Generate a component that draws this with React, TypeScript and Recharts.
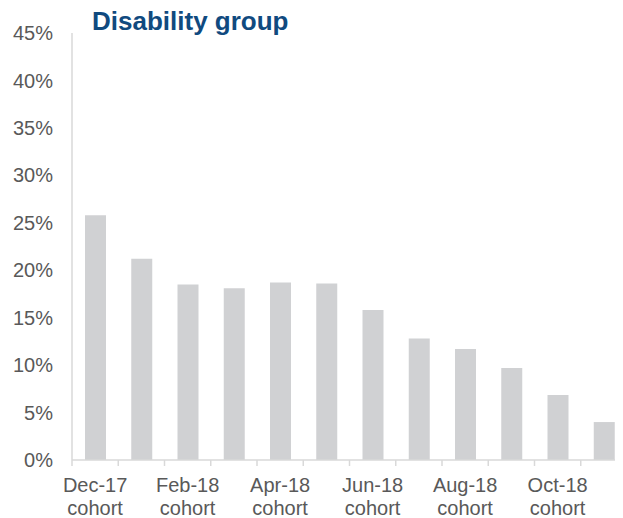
import React from 'react';
import { BarChart, Bar, XAxis, YAxis } from 'recharts';

const cohorts = ['Dec-17', 'Jan-18', 'Feb-18', 'Mar-18', 'Apr-18', 'May-18', 'Jun-18', 'Jul-18', 'Aug-18', 'Sep-18', 'Oct-18', 'Nov-18'];
const disabilityShare = [25.8, 21.2, 18.5, 18.1, 18.7, 18.6, 15.8, 12.8, 11.7, 9.7, 6.85, 4.0];
const yTicks = [0, 5, 10, 15, 20, 25, 30, 35, 40, 45];

const data = cohorts.map((c, i) => ({ cohort: c, value: disabilityShare[i] }));

const FONT = '"Liberation Sans", Arial, sans-serif';
const TEXT = '#595959';
const AXIS = '#d9d9d9';
const HALF_BAND = 23.1;

const CohortTick = (props: any) => {
	const { x, y, payload, index } = props;
	const half = payload && payload.offset ? payload.offset : HALF_BAND;
	return (
		<g>
			<line x1={x - half} x2={x - half} y1={y} y2={y + 6} stroke={AXIS} strokeWidth={1.5} />
			{index % 2 === 0 && (
				<text textAnchor="middle" fill={TEXT} fontSize={20} fontFamily={FONT}>
					<tspan x={x} y={y + 32}>{payload.value}</tspan>
					<tspan x={x} y={y + 55}>cohort</tspan>
				</text>
			)}
		</g>
	);
};

const App = () => {
	return (
		<div style={{ position: 'relative', width: 615, height: 510 }}>
			<style>{'html,body{overflow:hidden}'}</style>
			{/* chart is a little wider than the page, the right edge is cropped like the source */}
			<div style={{ width: 615, height: 510, overflow: 'hidden' }}>
				<BarChart width={630} height={510} data={data} margin={{ top: 25, right: 11, bottom: 0, left: 0 }} barCategoryGap={0}>
					<XAxis
						dataKey="cohort"
						interval={0}
						height={58}
						tickLine={false}
						tickSize={0}
						tickMargin={0}
						axisLine={{ stroke: AXIS, strokeWidth: 1.5 }}
						tick={<CohortTick />}
					/>
					<YAxis
						domain={[0, 45]}
						ticks={yTicks}
						width={64}
						tickLine={false}
						tickSize={0}
						tickMargin={19}
						axisLine={{ stroke: AXIS, strokeWidth: 1.5 }}
						tickFormatter={(v: number) => `${v}%`}
						tick={{ fill: TEXT, fontSize: 20, fontFamily: FONT }}
					/>
					<Bar dataKey="value" fill="#d0d1d3" barSize={21} isAnimationActive={false} />
				</BarChart>
			</div>
			<div
				style={{
					position: 'absolute', left: 84, top: -2,
					fontFamily: FONT, fontWeight: 'bold', fontSize: 26, color: '#104a7f', whiteSpace: 'nowrap'
				}}
			>
				Disability group
			</div>
		</div>
	);
};

export default App;
